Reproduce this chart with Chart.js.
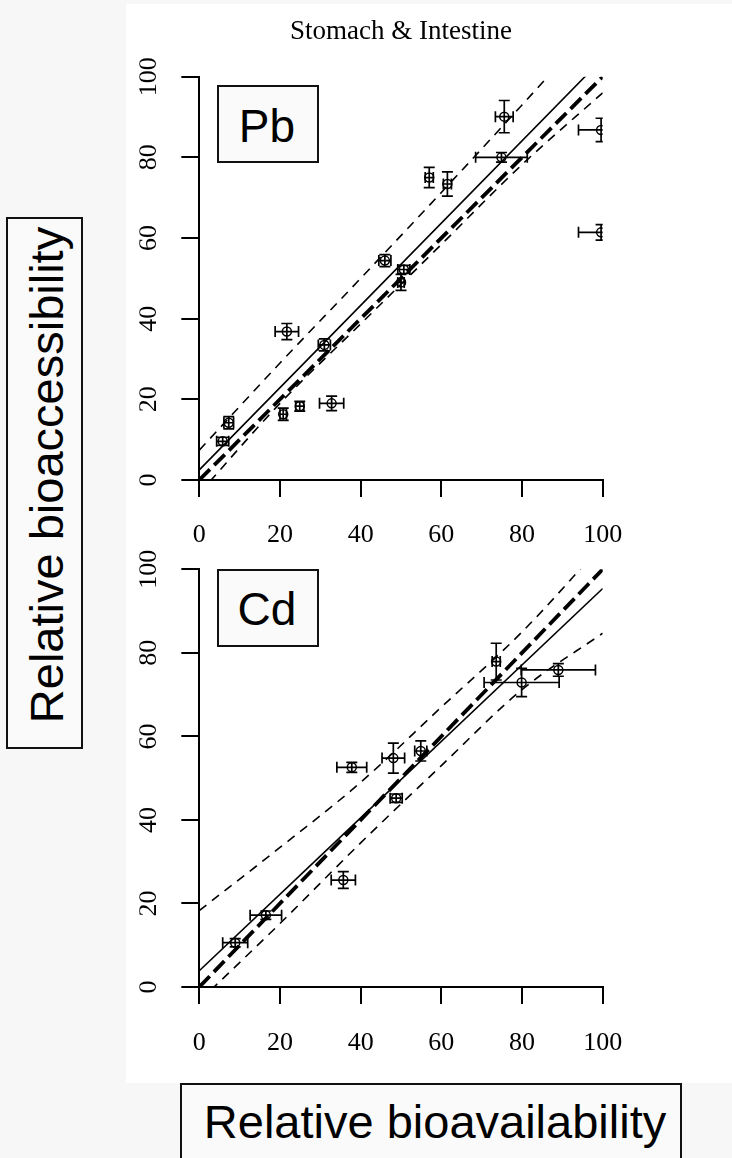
<!DOCTYPE html>
<html>
<head>
<meta charset="utf-8">
<title>Stomach &amp; Intestine</title>
<script src="https://cdn.jsdelivr.net/npm/chart.js@4.4.1/dist/chart.umd.min.js"></script>
<style>
  body { margin: 0; width: 732px; height: 1158px; overflow: hidden; position: relative; background: #f7f7f7; }
  #panel { position: absolute; left: 126px; top: 4px; width: 606px; height: 1079px; background: #fff; }
  canvas { position: absolute; }
  .title { position: absolute; left: 401px; top: 30px; transform: translate(-50%, -50%); white-space: nowrap;
           font: 27px "Liberation Serif", "Times New Roman", serif; color: #000; }
  .box { position: absolute; box-sizing: border-box; background: #fafafa; border: 2px solid #111; }
  .lbl { position: absolute; transform: translate(-50%, -50%); white-space: nowrap; color: #000;
         font-family: "Liberation Sans", Arial, sans-serif; line-height: normal; }
</style>
</head>
<body>
<div id="panel"></div>
<canvas id="pbChart" width="606" height="580" style="left:126px; top:0px;"></canvas>
<canvas id="cdChart" width="606" height="600" style="left:126px; top:490px;"></canvas>

<div class="title">Stomach &amp; Intestine</div>

<div class="box" style="left:217px; top:85px; width:102px; height:78px;"></div>
<div class="lbl" style="left:267px; top:126px; font-size:46px;">Pb</div>
<div class="box" style="left:217px; top:569px; width:102px; height:78px;"></div>
<div class="lbl" style="left:267px; top:609px; font-size:46px;">Cd</div>

<div class="box" style="left:6px; top:217px; width:77px; height:532px;"></div>
<div class="lbl" style="left:46px; top:475px; font-size:47px; transform: translate(-50%, -50%) rotate(-90deg);">Relative bioaccessibility</div>
<div class="box" style="left:180px; top:1083px; width:502px; height:100px;"></div>
<div class="lbl" style="left:435px; top:1121px; font-size:47px;">Relative bioavailability</div>

<script>
// axis ticks (both panels)
const tickValues = [0, 20, 40, 60, 80, 100];

// x positions used by the straight lines and the confidence bands
const lineX = [0, 100];
const bandX = [0, 20, 40, 60, 80, 100];
const oneToOneY = [0, 100];

// Pb: measured points with error bars
const pbX    = [5.8, 7.3, 20.8, 24.9, 21.7, 31.0, 32.8, 46.0, 50.7, 50.0, 57.0, 61.5, 74.9, 75.6, 99.6, 99.6];
const pbY    = [9.6, 14.2, 16.3, 18.3, 36.8, 33.5, 19.0, 54.4, 52.2, 49.0, 75.0, 73.4, 80.0, 90.1, 86.8, 61.4];
const pbXErr = [1.5, 1.2, 0.8, 1.0, 2.9, 1.5, 3.0, 1.5, 1.5, 0.8, 1.0, 1.0, 6.4, 2.2, 5.6, 5.6];
const pbYErr = [1.0, 1.5, 1.5, 1.2, 2.0, 1.5, 1.8, 1.5, 1.0, 2.0, 2.5, 3.0, 1.2, 4.0, 2.9, 1.9];
// Pb: regression line and its confidence band
const pbFitY   = [2.5, 104.5];
const pbUpperY = [7.4, 29, 50, 71.3, 93, 115];
const pbLowerY = [-3.3, 19, 38.7, 58.4, 78.2, 96];

// Cd: measured points with error bars
const cdX    = [8.9, 16.5, 35.7, 37.8, 48.8, 48.1, 54.9, 73.6, 79.9, 89.0];
const cdY    = [10.6, 17.2, 25.6, 52.6, 45.2, 54.8, 56.5, 77.9, 72.9, 75.9];
const cdXErr = [3.1, 3.9, 3.0, 3.7, 1.5, 2.8, 1.5, 1.0, 9.3, 9.2];
const cdYErr = [1.0, 1.0, 2.0, 1.2, 1.0, 3.6, 2.4, 4.4, 3.4, 1.5];
// Cd: regression line and its confidence band
const cdFitY   = [3.9, 95.4];
const cdUpperY = [18.3, 33.4, 49, 67, 85, 106];
const cdLowerY = [-3.4, 15.2, 34.5, 53, 71.2, 84.7];

const serif = '"Liberation Serif", "Times New Roman", serif';

// Draw x and y error bars with end caps, clipped to the plot area
const errorBars = {
    id: 'errorBars',
    afterDatasetsDraw(chart) {
        const { ctx, chartArea: a, scales } = chart;
        const cap = 5.5;
        ctx.save();
        ctx.beginPath();
        ctx.rect(a.left, a.top, a.right - a.left, a.bottom - a.top);
        ctx.clip();
        ctx.strokeStyle = '#000';
        ctx.lineWidth = 1.7;
        chart.data.datasets.forEach(ds => {
            if (!ds.xErr) return;
            ds.data.forEach((p, i) => {
                const px = scales.x.getPixelForValue(p.x);
                const py = scales.y.getPixelForValue(p.y);
                const x0 = scales.x.getPixelForValue(p.x - ds.xErr[i]);
                const x1 = scales.x.getPixelForValue(p.x + ds.xErr[i]);
                const y0 = scales.y.getPixelForValue(p.y - ds.yErr[i]);
                const y1 = scales.y.getPixelForValue(p.y + ds.yErr[i]);
                ctx.beginPath();
                ctx.moveTo(x0, py); ctx.lineTo(x1, py);
                ctx.moveTo(x0, py - cap); ctx.lineTo(x0, py + cap);
                ctx.moveTo(x1, py - cap); ctx.lineTo(x1, py + cap);
                ctx.moveTo(px, y0); ctx.lineTo(px, y1);
                ctx.moveTo(px - cap, y0); ctx.lineTo(px + cap, y0);
                ctx.moveTo(px - cap, y1); ctx.lineTo(px + cap, y1);
                ctx.stroke();
            });
        });
        ctx.restore();
    }
};

function toPoints(xs, ys) {
    return xs.map((x, i) => ({ x: x, y: ys[i] }));
}

function lineSet(xs, ys, width, dash) {
    return {
        type: 'line',
        data: toPoints(xs, ys),
        borderColor: '#000',
        borderWidth: width,
        borderDash: dash,
        pointRadius: 0,
        fill: false,
        cubicInterpolationMode: 'monotone',
        clip: 0
    };
}

function makeScales(labelPad) {
    const setTicks = axis => { axis.ticks = tickValues.map(v => ({ value: v })); };
    return {
        x: {
            type: 'linear', min: 0, max: 100,
            afterBuildTicks: setTicks,
            afterFit: axis => { axis.height = 90; },
            grid: { drawOnChartArea: false, drawTicks: true, tickLength: 17, color: '#000', lineWidth: 2 },
            border: { display: true, color: '#000', width: 2 },
            ticks: { color: '#000', font: { family: serif, size: 26 }, padding: labelPad,
                     maxRotation: 0, autoSkip: false }
        },
        y: {
            type: 'linear', min: 0, max: 100,
            afterBuildTicks: setTicks,
            afterFit: axis => { axis.width = 60; },
            grid: { drawOnChartArea: false, drawTicks: true, tickLength: 18, color: '#000', lineWidth: 2 },
            border: { display: true, color: '#000', width: 2 },
            ticks: { color: '#000', font: { family: serif, size: 26 }, padding: 13,
                     minRotation: 90, maxRotation: 90, crossAlign: 'center', autoSkip: false }
        }
    };
}

function createPanel(canvasId, xs, ys, xErr, yErr, fitY, upperY, lowerY, padding, labelPad) {
    const ctx = document.getElementById(canvasId).getContext('2d');
    return new Chart(ctx, {
        type: 'scatter',
        data: {
            datasets: [
                {
                    data: toPoints(xs, ys),
                    xErr: xErr,
                    yErr: yErr,
                    pointStyle: 'circle',
                    pointRadius: 4.5,
                    borderColor: '#000',
                    borderWidth: 1.5,
                    backgroundColor: 'rgba(0,0,0,0)',
                    clip: 0
                },
                lineSet(lineX, fitY, 1.6, []),
                lineSet(lineX, oneToOneY, 3.8, [15, 6]),
                lineSet(bandX, upperY, 1.6, [9, 7]),
                lineSet(bandX, lowerY, 1.6, [9, 7])
            ]
        },
        options: {
            responsive: false,
            animation: false,
            layout: { padding: padding },
            plugins: {
                legend: { display: false },
                tooltip: { enabled: false }
            },
            scales: makeScales(labelPad)
        },
        plugins: [errorBars]
    });
}

function drawAll() {
    createPanel('pbChart', pbX, pbY, pbXErr, pbYErr, pbFitY, pbUpperY, pbLowerY,
        { left: 13.3, right: 129.3, top: 76.7, bottom: 10 }, 22.4);
    createPanel('cdChart', cdX, cdY, cdXErr, cdYErr, cdFitY, cdUpperY, cdLowerY,
        { left: 13.3, right: 129.3, top: 79.3, bottom: 13 }, 23.7);
}

// make sure the serif face is ready before the canvas text is drawn
document.fonts.load('26px "Liberation Serif"').then(drawAll, drawAll);
</script>
</body>
</html>
